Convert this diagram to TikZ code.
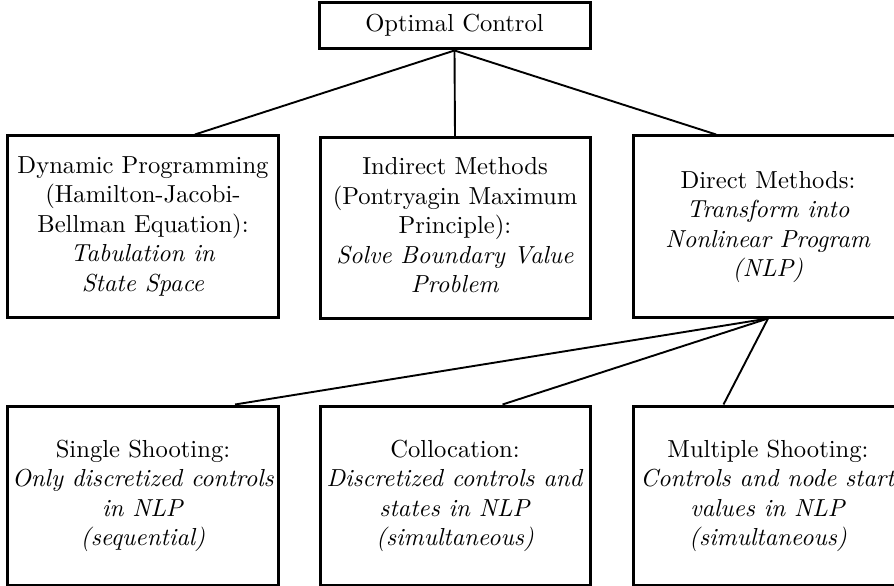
\documentclass[tikz,border=0pt]{standalone}
\usetikzlibrary{calc}
\newcommand{\boxtext}[1]{\scalebox{2.47}{\begin{tabular}{@{}c@{}}#1\end{tabular}}}
\begin{document}
\begin{tikzpicture}[x=1bp,y=-1bp,
  box/.style={draw,line width=3bp,minimum width=270bp,inner sep=0pt,align=center,
    font=\normalsize},
  midbox/.style={box,minimum height=181bp},
  lowbox/.style={box,minimum height=179bp},
  link/.style={line width=1.9bp}]
\useasboundingbox (0,0) rectangle (894,586);
\node[box,minimum width=271bp,minimum height=46bp] (oc) at (454.5,26) {\boxtext{Optimal Control}};
\node[midbox] (dp) at (143,226.5) {\boxtext{Dynamic Programming\\(Hamilton-Jacobi-\\Bellman Equation):\\\textit{Tabulation in}\\\textit{State Space}}};
\node[midbox] (im) at (455,228) {\boxtext{Indirect Methods\\(Pontryagin Maximum\\Principle):\\\textit{Solve Boundary Value}\\\textit{Problem}}};
\node[midbox] (dm) at (768,226.5) {\boxtext{Direct Methods:\\\textit{Transform into}\\\textit{Nonlinear Program}\\\textit{(NLP)}}};
\node[lowbox] (ss) at (143,495.5) {\boxtext{Single Shooting:\\\textit{Only discretized controls}\\\textit{in NLP}\\\textit{(sequential)}}};
\node[lowbox] (co) at (455,495.5) {\boxtext{Collocation:\\\textit{Discretized controls and}\\\textit{states in NLP}\\\textit{(simultaneous)}}};
\node[lowbox] (ms) at (768,495.5) {\boxtext{Multiple Shooting:\\\textit{Controls and node start}\\\textit{values in NLP}\\\textit{(simultaneous)}}};
\draw[link] (oc.south) -- ($(dp.north west)!0.69!(dp.north east)$);
\draw[link] (oc.south) -- (im.north);
\draw[link] (oc.south) -- ($(dm.north west)!0.31!(dm.north east)$);
\draw[link] (dm.south) -- ($(ss.north west)!0.837!(ss.north east)$);
\draw[link] (dm.south) -- ($(co.north west)!0.674!(co.north east)$);
\draw[link] (dm.south) -- ($(ms.north west)!0.337!(ms.north east)$);
\end{tikzpicture}
\end{document}
